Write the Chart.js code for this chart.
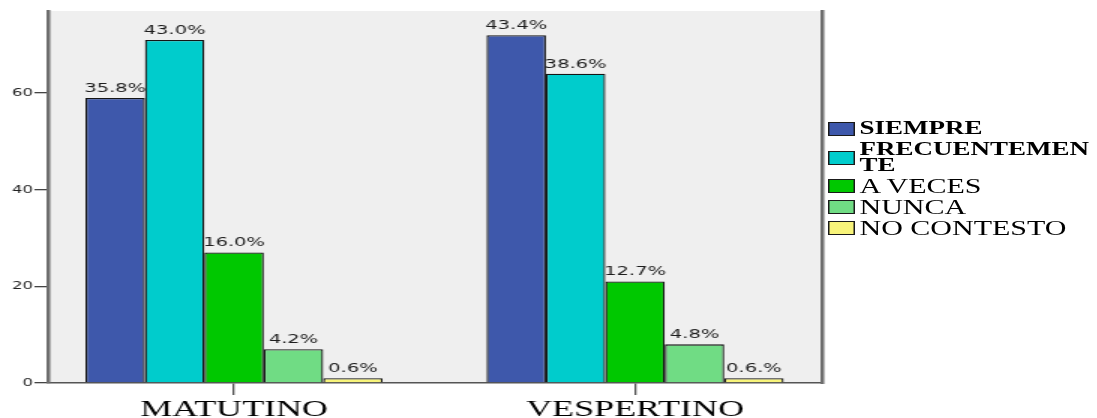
<html>
<head>
<meta charset="UTF-8">
<script src="https://cdn.jsdelivr.net/npm/chart.js@4.4.0/dist/chart.umd.min.js"></script>
<style>
 body { margin: 0; background: #fff; }
 /* the reference is a horizontally stretched SPSS chart, so stretch the whole thing */
 #wrap { position: relative; width: 731.33px; height: 418px; transform: scaleX(1.5); transform-origin: 0 0; }
 #cw { position: absolute; left: 0; top: 0; width: 731.33px; height: 418px; }
 #legend { position: absolute; left: 552px; top: 121px; width: 179px; font-family: "Liberation Serif", "Times New Roman", serif; color: #000; }
 .row { display: flex; align-items: center; margin-bottom: 5.5px; }
 .box { width: 16px; height: 12px; border: 1px solid #1a1a1a; flex: none; margin-right: 3px; }
 .txt { line-height: 15.5px; font-size: 20px; word-break: break-all; width: 158px; }
 .txt.b { font-weight: bold; font-size: 18px; }
</style>
</head>
<title>Chart</title>
<body>
<div id="wrap">
  <div id="cw"><canvas id="myChart"></canvas></div>
  <div id="legend"></div>
</div>

<script>
 var categories = ['MATUTINO', 'VESPERTINO'];
 var seriesNames = ['SIEMPRE', 'FRECUENTEMENTE', 'A VECES', 'NUNCA', 'NO CONTESTO'];

 var siempre        = [59, 72];
 var frecuentemente = [71, 64];
 var aVeces         = [27, 21];
 var nunca          = [7, 8];
 var noContesto     = [1, 1];

 var pctSiempre        = ['35.8%', '43.4%'];
 var pctFrecuentemente = ['43.0%', '38.6%'];
 var pctAVeces         = ['16.0%', '12.7%'];
 var pctNunca          = ['4.2%', '4.8%'];
 var pctNoContesto     = ['0.6%', '0.6.%'];

 var yTicks = [0, 20, 40, 60];

 var colours = ['#3e58ab', '#00cccc', '#00c800', '#70dc84', '#f8f47a'];
 var legendBold = [true, true, false, false, false];

 var seriesValues = [siempre, frecuentemente, aVeces, nunca, noContesto];
 var seriesPct = [pctSiempre, pctFrecuentemente, pctAVeces, pctNunca, pctNoContesto];

 // grey plot background
 var plotBg = {
     id: 'plotBg',
     beforeDraw: function(chart) {
	 var a = chart.chartArea, ctx = chart.ctx;
	 ctx.save();
	 ctx.fillStyle = '#efefef';
	 ctx.fillRect(a.left, a.top, a.right - a.left, a.bottom - a.top);
	 ctx.restore();
     }
 };

 // percentage labels on top of the bars
 var barLabels = {
     id: 'barLabels',
     afterDatasetsDraw: function(chart) {
	 var ctx = chart.ctx;
	 ctx.save();
	 ctx.font = '13px "DejaVu Sans"';
	 ctx.fillStyle = '#1e1e1e';
	 ctx.textAlign = 'center';
	 ctx.textBaseline = 'bottom';
	 chart.data.datasets.forEach(function(ds, d) {
	     chart.getDatasetMeta(d).data.forEach(function(bar, i) {
		 ctx.fillText(seriesPct[d][i], bar.x, bar.y - 3);
	     });
	 });
	 ctx.restore();
     }
 };

 function init()
 {
     var datasets = seriesNames.map(function(name, d) {
	 return {
	     label: name,
	     backgroundColor: colours[d],
	     borderColor: '#151515',
	     borderWidth: 1.3,
	     data: seriesValues[d].map(function(v, i) { return { x: i, y: v }; })
	 };
     });

     var ctx = document.getElementById('myChart').getContext('2d');
     chart = new Chart(ctx, {
	 type: 'bar',
	 data: { datasets: datasets },
	 plugins: [plotBg, barLabels],
	 options: {
	     animation: false,
	     responsive: true,
	     maintainAspectRatio: false,
	     devicePixelRatio: 1,
	     categoryPercentage: 0.741,
	     barPercentage: 1,
	     layout: { padding: { left: 0, top: 11, right: 183.33, bottom: 0 } },
	     plugins: { legend: { display: false }, tooltip: { enabled: false } },
	     scales: {
		 x: {
		     type: 'linear',
		     offset: false,
		     min: -0.464,
		     max: 1.466,
		     afterBuildTicks: function(s) { s.ticks = categories.map(function(c, i) { return { value: i }; }); },
		     afterFit: function(s) { s.height = 35; },
		     grid: { offset: false, drawOnChartArea: false, tickLength: 12, color: '#555', lineWidth: 1.3 },
		     border: { display: true, color: '#555', width: 1.5 },
		     ticks: {
			 autoSkip: false,
			 maxRotation: 0,
			 padding: 0,
			 color: '#000',
			 font: { family: 'Liberation Serif', size: 24 },
			 callback: function(v) { return categories[v] || ''; }
		     }
		 },
		 y: {
		     min: 0,
		     max: 77,
		     afterBuildTicks: function(s) { s.ticks = yTicks.map(function(v) { return { value: v }; }); },
		     afterFit: function(s) { s.width = 32; },
		     grid: { drawOnChartArea: false, tickLength: 9, color: '#444', lineWidth: 1.3 },
		     border: { display: true, color: '#6e6e6e', width: 2.5 },
		     ticks: { padding: 1, color: '#222', font: { family: 'DejaVu Sans', size: 11 } }
		 },
		 y2: {
		     display: true,
		     position: 'right',
		     min: 0,
		     max: 77,
		     afterFit: function(s) { s.width = 0; },
		     grid: { display: false },
		     ticks: { display: false },
		     border: { display: true, color: '#6e6e6e', width: 2.5 }
		 }
	     }
	 }
     });

     // legend, built from the same series
     var leg = document.getElementById('legend');
     seriesNames.forEach(function(name, d) {
	 var row = document.createElement('div');
	 row.className = 'row';
	 var box = document.createElement('div');
	 box.className = 'box';
	 box.style.background = colours[d];
	 var txt = document.createElement('div');
	 txt.className = legendBold[d] ? 'txt b' : 'txt';
	 txt.textContent = name;
	 row.appendChild(box);
	 row.appendChild(txt);
	 leg.appendChild(row);
     });
 }

 window.onload = init;
</script>
</body>
</html>
